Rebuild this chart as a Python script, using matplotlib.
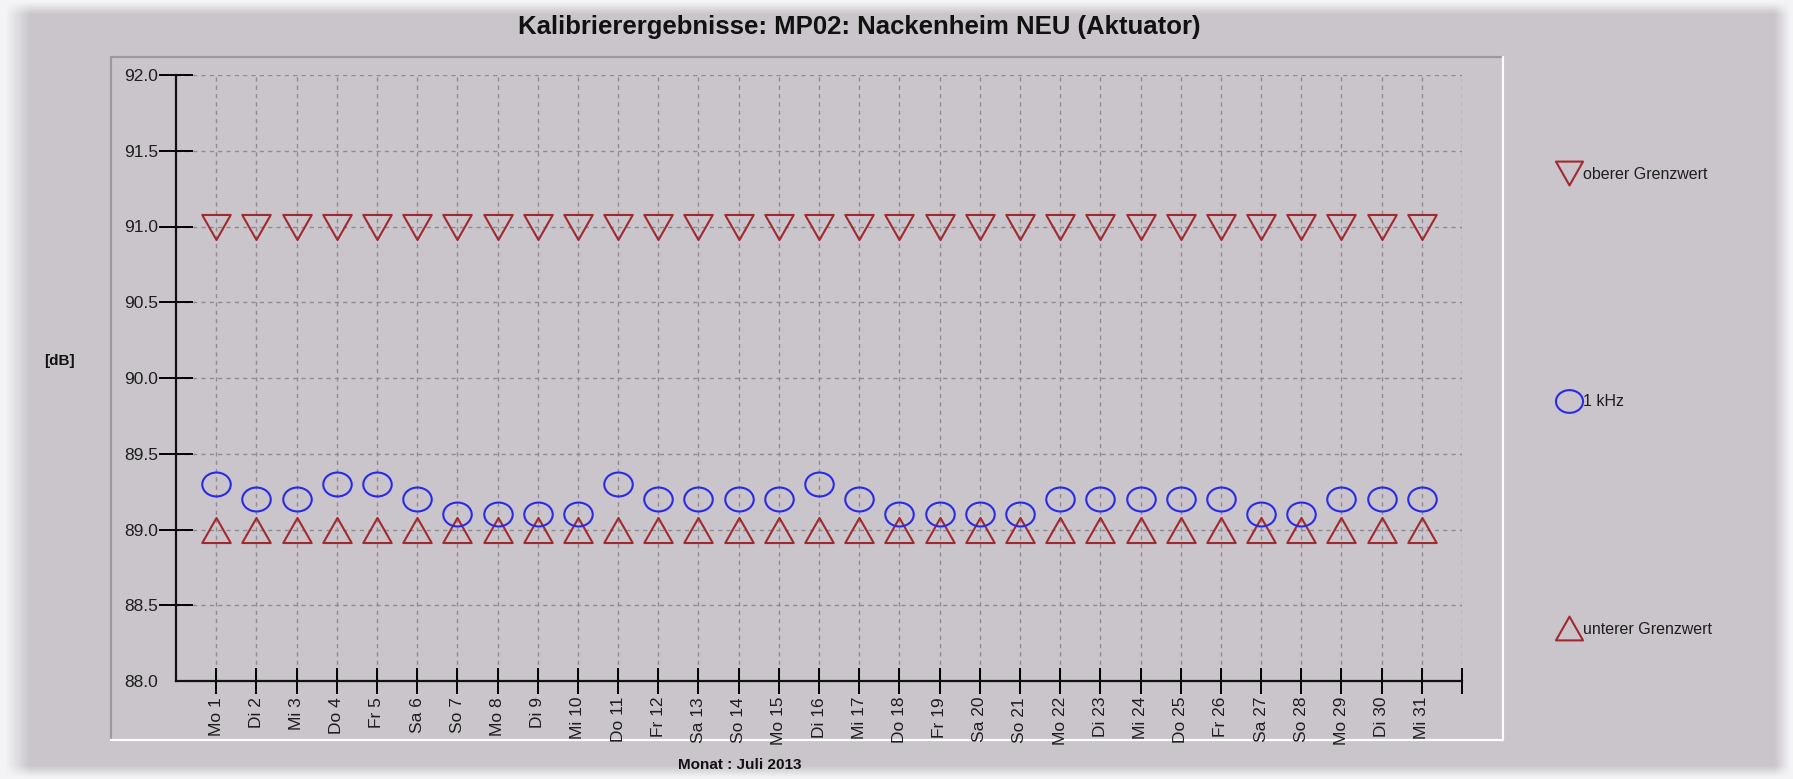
# Kalibrierergebnisse MP02 Nackenheim, Juli 2013
import numpy as np
import matplotlib
matplotlib.use('Agg')
import matplotlib.pyplot as plt
from matplotlib.path import Path

plt.rcParams['font.family'] = ['Liberation Sans', 'DejaVu Sans']

# Tage im Monat
days = [1, 2, 3, 4, 5, 6, 7, 8, 9, 10, 11, 12, 13, 14, 15, 16,
        17, 18, 19, 20, 21, 22, 23, 24, 25, 26, 27, 28, 29, 30, 31]

day_labels = ['Mo 1', 'Di 2', 'Mi 3', 'Do 4', 'Fr 5', 'Sa 6', 'So 7',
              'Mo 8', 'Di 9', 'Mi 10', 'Do 11', 'Fr 12', 'Sa 13', 'So 14',
              'Mo 15', 'Di 16', 'Mi 17', 'Do 18', 'Fr 19', 'Sa 20', 'So 21',
              'Mo 22', 'Di 23', 'Mi 24', 'Do 25', 'Fr 26', 'Sa 27', 'So 28',
              'Mo 29', 'Di 30', 'Mi 31']

# oberer Grenzwert [dB]
oberer = [91.0, 91.0, 91.0, 91.0, 91.0, 91.0, 91.0, 91.0, 91.0, 91.0, 91.0,
          91.0, 91.0, 91.0, 91.0, 91.0, 91.0, 91.0, 91.0, 91.0, 91.0, 91.0,
          91.0, 91.0, 91.0, 91.0, 91.0, 91.0, 91.0, 91.0, 91.0]

# 1 kHz Messwerte [dB]
khz1 = [89.3, 89.2, 89.2, 89.3, 89.3, 89.2, 89.1, 89.1, 89.1, 89.1, 89.3,
        89.2, 89.2, 89.2, 89.2, 89.3, 89.2, 89.1, 89.1, 89.1, 89.1, 89.2,
        89.2, 89.2, 89.2, 89.2, 89.1, 89.1, 89.2, 89.2, 89.2]

# unterer Grenzwert [dB]
unterer = [89.0, 89.0, 89.0, 89.0, 89.0, 89.0, 89.0, 89.0, 89.0, 89.0, 89.0,
           89.0, 89.0, 89.0, 89.0, 89.0, 89.0, 89.0, 89.0, 89.0, 89.0, 89.0,
           89.0, 89.0, 89.0, 89.0, 89.0, 89.0, 89.0, 89.0, 89.0]

y_ticks = [88.0, 88.5, 89.0, 89.5, 90.0, 90.5, 91.0, 91.5, 92.0]

W, H = 1793, 779
bg = np.array([0xC9, 0xC5, 0xCA]) / 255.0
red = '#A02A30'
blue = '#2A2AE8'

fig = plt.figure(figsize=(W / 100, H / 100), dpi=100)
fig.patch.set_facecolor('white')

# weicher Rahmen / Schatten um das Bild
bga = fig.add_axes([0, 0, 1, 1])
bga.set_axis_off()
xs = np.arange(W)
ys = np.arange(H)
fx = np.clip((xs - 4) / 26.0, 0, 1) * np.clip((1790 - xs) / 16.0, 0, 1)
fy = np.clip((ys - 1) / 13.0, 0, 1) * np.clip((777 - ys) / 12.0, 0, 1)
v = np.outer(fy, fx)[..., None]
img = (1 - v) * np.array([0.96, 0.96, 0.97]) + v * bg
bga.imshow(img, extent=[0, W, H, 0], aspect='auto', interpolation='bilinear')
bga.set_xlim(0, W)
bga.set_ylim(H, 0)

# Diagramm-Panel (Kante)
px0, px1, py0, py1 = 111, 1503, 57, 740
bga.plot([px0, px0, px1], [py1, py0, py0], color='#9C98A0', lw=1.6)
bga.plot([px0, px1, px1], [py1, py1, py0], color='white', lw=1.6)

ax = fig.add_axes([176 / W, 1 - 681 / H, (1462 - 176) / W, (681 - 75) / H])
ax.patch.set_alpha(0)

# Markerformen
circ = Path.unit_circle()
ellipse = Path(circ.vertices * np.array([1.0, 0.84]), circ.codes)
tri_up = Path([(-1, -0.88), (1, -0.88), (0, 0.88), (-1, -0.88)], closed=True)
tri_down = Path([(-1, 0.88), (1, 0.88), (0, -0.88), (-1, 0.88)], closed=True)

ms = 20.5
mew = 1.5
ax.plot(days, oberer, linestyle='none', marker=tri_down, markersize=ms,
        markerfacecolor='none', markeredgecolor=red, markeredgewidth=mew,
        label='oberer Grenzwert', zorder=3)
ax.plot(days, khz1, linestyle='none', marker=ellipse, markersize=ms,
        markerfacecolor='none', markeredgecolor=blue, markeredgewidth=mew,
        label='1 kHz', zorder=4)
ax.plot(days, unterer, linestyle='none', marker=tri_up, markersize=ms,
        markerfacecolor='none', markeredgecolor=red, markeredgewidth=mew,
        label='unterer Grenzwert', zorder=3)

ax.set_xlim(0, 32)
ax.set_ylim(88, 92)
ax.set_xticks(days + [32])
ax.set_xticklabels(day_labels + [''], rotation=90, fontsize=12.5, color='#1E1E1E')
ax.set_yticks(y_ticks)
ax.set_yticklabels(['%.1f' % t for t in y_ticks], fontsize=12.5, color='#1E1E1E')

ax.tick_params(axis='x', direction='inout', length=19, width=1.4, pad=2)
ax.tick_params(axis='y', direction='inout', length=24, width=1.4, pad=1)
ax.yaxis.get_major_ticks()[0].tick1line.set_visible(False)

for s in ['top', 'right']:
    ax.spines[s].set_visible(False)
for s in ['left', 'bottom']:
    ax.spines[s].set_linewidth(1.6)
    ax.spines[s].set_color('#111111')

ax.set_axisbelow(True)
ax.grid(True, color='#8E8B92', linestyle=(0, (3, 3)), linewidth=1.0)

# Texte
fig.text(859 / W, 1 - 27 / H, 'Kalibrierergebnisse: MP02: Nackenheim NEU (Aktuator)',
         ha='center', va='center', fontsize=18.5, fontweight='bold', color='#111111')
fig.text(59 / W, 1 - 361 / H, '[dB]', ha='center', va='center',
         fontsize=11, fontweight='bold', color='#111111')
fig.text(740 / W, 1 - 765 / H, 'Monat : Juli 2013', ha='center', va='center',
         fontsize=11, fontweight='bold', color='#111111')

leg = ax.legend(loc='upper left', bbox_to_anchor=(1555 / W, 1 - 167 / H),
                bbox_transform=fig.transFigure, frameon=False, fontsize=11.5,
                labelspacing=13.3, handlelength=1.7, handletextpad=0.05,
                borderpad=0, borderaxespad=0, markerscale=0.95)
for t in leg.get_texts():
    t.set_color('#1E1E1E')

fig.savefig('out.png', dpi=100, facecolor=fig.get_facecolor())
